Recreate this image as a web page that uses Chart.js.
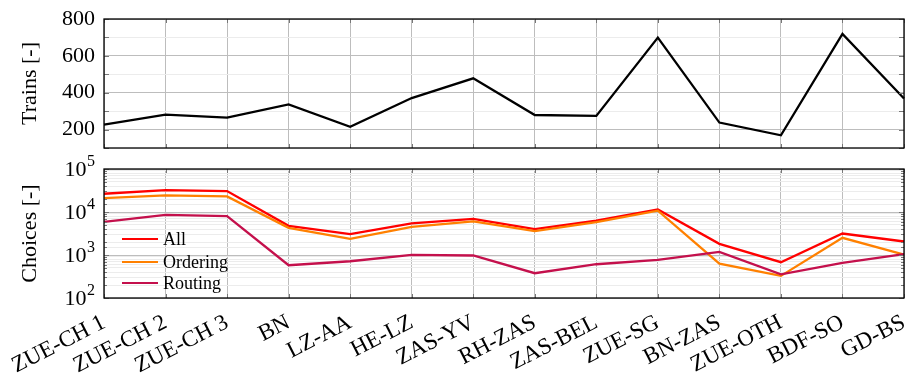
<!DOCTYPE html>
<html>
<head>
<meta charset="utf-8">
<script src="https://cdn.jsdelivr.net/npm/chart.js@4"></script>
<style>
  html, body { margin: 0; padding: 0; background: #ffffff; }
  #wrap { position: relative; width: 907px; height: 378px; overflow: hidden; }
  #topBox { position: absolute; left: 0; top: 0; width: 907px; height: 150px; }
  #botBox { position: absolute; left: 0; top: 150px; width: 907px; height: 228px; }
</style>
</head>
<body>
<div id="wrap">
  <div id="topBox"><canvas id="trainsChart" width="907" height="150"></canvas></div>
  <div id="botBox"><canvas id="choicesChart" width="907" height="228"></canvas></div>
</div>
<script>
// Line sections (shared category axis)
const sections = ['ZUE-CH 1', 'ZUE-CH 2', 'ZUE-CH 3', 'BN', 'LZ-AA', 'HE-LZ', 'ZAS-YV',
                  'RH-ZAS', 'ZAS-BEL', 'ZUE-SG', 'BN-ZAS', 'ZUE-OTH', 'BDF-SO', 'GD-BS'];

// Number of trains per section
const trains = [227, 281, 265, 337, 215, 371, 478, 279, 274, 699, 238, 169, 719, 369];

// Number of choices per section (log scale)
const choicesAll      = [26600, 32400, 30700, 4780, 3050, 5410, 6950, 3990, 6300, 11500, 1820, 680, 3160, 2060];
const choicesOrdering = [21100, 24300, 23100, 4290, 2380, 4520, 6030, 3590, 5820, 10700, 630, 327, 2510, 1020];
const choicesRouting  = [5910, 8610, 8020, 578, 716, 1010, 973, 377, 610, 770, 1180, 356, 656, 1045];

// Labelled ticks
const trainTicks  = [200, 400, 600, 800];
const choiceTicks = [100, 1000, 10000, 100000];

const FONT = "'Liberation Serif', 'DejaVu Serif', serif";
const MAJOR_GRID = '#bdbdbd';
const MINOR_GRID = '#ececec';
const PLOT_LEFT = 104;
const LABEL_RIGHT = 95;

function isChoiceTick(v) {
  return choiceTicks.some(t => Math.abs(v - t) / t < 1e-6);
}

// Frame around the plot area plus short inward tick marks on all sides
const framePlugin = {
  id: 'frame',
  afterDatasetsDraw(chart) {
    const { ctx, chartArea: a, scales } = chart;
    ctx.save();
    ctx.strokeStyle = '#777777';
    ctx.lineWidth = 1;
    const xs = scales.x;
    xs.ticks.forEach((t, i) => {
      const px = Math.round(xs.getPixelForTick(i)) + 0.5;
      ctx.beginPath();
      ctx.moveTo(px, a.top); ctx.lineTo(px, a.top + 4);
      ctx.moveTo(px, a.bottom); ctx.lineTo(px, a.bottom - 4);
      ctx.stroke();
    });
    const ys = scales.y;
    ys.ticks.forEach((t, i) => {
      const py = Math.round(ys.getPixelForTick(i)) + 0.5;
      const major = chart.options.scales.y.type === 'logarithmic' ? isChoiceTick(t.value) : true;
      const len = major ? 5 : 3;
      ctx.beginPath();
      ctx.moveTo(a.left, py); ctx.lineTo(a.left + len, py);
      ctx.moveTo(a.right, py); ctx.lineTo(a.right - len, py);
      ctx.stroke();
    });
    ctx.strokeStyle = '#000000';
    ctx.lineWidth = 1.3;
    ctx.strokeRect(a.left, a.top, a.right - a.left, a.bottom - a.top);
    ctx.restore();
  }
};

// Powers of ten on the log axis, written as base with a raised exponent
const powerLabels = {
  id: 'powerLabels',
  afterDraw(chart) {
    const { ctx } = chart;
    const ys = chart.scales.y;
    ctx.save();
    ctx.fillStyle = '#000000';
    ctx.textAlign = 'right';
    ctx.textBaseline = 'middle';
    choiceTicks.forEach(t => {
      const py = ys.getPixelForValue(t);
      const exp = String(Math.round(Math.log10(t)));
      ctx.font = "16px " + FONT;
      const ew = ctx.measureText(exp).width;
      ctx.fillText(exp, LABEL_RIGHT, py - 7);
      ctx.font = "22px " + FONT;
      ctx.fillText('10', LABEL_RIGHT - ew - 0.5, py + 1);
    });
    ctx.restore();
  }
};

// Legend drawn inside the lower left of the plot area
const innerLegend = {
  id: 'innerLegend',
  afterDraw(chart) {
    const { ctx } = chart;
    const x0 = 122, x1 = 158, tx = 163;
    const rows = [89, 112, 133];
    ctx.save();
    ctx.font = "18px " + FONT;
    ctx.textBaseline = 'middle';
    ctx.textAlign = 'left';
    chart.data.datasets.forEach((ds, i) => {
      const y = rows[i];
      ctx.strokeStyle = ds.borderColor;
      ctx.lineWidth = 2.2;
      ctx.beginPath(); ctx.moveTo(x0, y); ctx.lineTo(x1, y); ctx.stroke();
      ctx.fillStyle = '#000000';
      ctx.fillText(ds.label, tx, y + 1);
    });
    ctx.restore();
  }
};

// Fixed axis sizes so both plot areas line up exactly
function fixedWidth(w) {
  return scale => { scale.width = w; scale.paddingTop = 0; scale.paddingBottom = 0; };
}
function fixedHeight(h) {
  return scale => { scale.height = h; scale.paddingLeft = 0; scale.paddingRight = 0; };
}

// Trains per section
new Chart(document.getElementById('trainsChart'), {
  type: 'line',
  data: {
    labels: sections,
    datasets: [{
      label: 'Trains',
      data: trains,
      borderColor: '#000000',
      borderWidth: 2.3,
      pointRadius: 0,
      tension: 0,
      fill: false
    }]
  },
  options: {
    responsive: false,
    animation: false,
    devicePixelRatio: 1,
    layout: { padding: { top: 19, right: 3, left: 0, bottom: 0 } },
    plugins: { legend: { display: false }, tooltip: { enabled: false } },
    scales: {
      x: {
        type: 'category',
        offset: false,
        ticks: { display: false, autoSkip: false },
        grid: { color: MAJOR_GRID, drawTicks: false, lineWidth: 1 },
        border: { display: false },
        afterFit: fixedHeight(2)
      },
      y: {
        type: 'linear',
        min: 100,
        max: 800,
        ticks: {
          stepSize: 100,
          autoSkip: false,
          padding: 9,
          color: '#000000',
          font: { family: FONT, size: 22 },
          callback: v => trainTicks.includes(v) ? String(v) : ''
        },
        grid: {
          drawTicks: false,
          color: c => (c.tick && c.tick.value % 200 === 0) ? MAJOR_GRID : MINOR_GRID,
          lineWidth: 1
        },
        border: { display: false },
        title: {
          display: true,
          text: 'Trains [-]',
          color: '#000000',
          font: { family: FONT, size: 22 },
          padding: { top: 17, bottom: 0 }
        },
        afterFit: fixedWidth(PLOT_LEFT)
      }
    }
  },
  plugins: [framePlugin]
});

// Choices per section
new Chart(document.getElementById('choicesChart'), {
  type: 'line',
  data: {
    labels: sections,
    datasets: [
      { label: 'All', data: choicesAll, borderColor: '#ff0000', order: 3 },
      { label: 'Ordering', data: choicesOrdering, borderColor: '#ff8000', order: 2 },
      { label: 'Routing', data: choicesRouting, borderColor: '#c4104c', order: 1 }
    ].map(d => Object.assign(d, { borderWidth: 2.3, pointRadius: 0, tension: 0, fill: false }))
  },
  options: {
    responsive: false,
    animation: false,
    devicePixelRatio: 1,
    layout: { padding: { top: 19, right: 3, left: 0, bottom: 0 } },
    plugins: { legend: { display: false }, tooltip: { enabled: false } },
    scales: {
      x: {
        type: 'category',
        offset: false,
        ticks: {
          autoSkip: false,
          minRotation: 27,
          maxRotation: 27,
          padding: 11,
          color: '#000000',
          font: { family: FONT, size: 23 }
        },
        grid: { color: MAJOR_GRID, drawTicks: false, lineWidth: 1 },
        border: { display: false },
        afterFit: fixedHeight(80)
      },
      y: {
        type: 'logarithmic',
        min: 100,
        max: 100000,
        ticks: {
          autoSkip: false,
          padding: 9,
          font: { family: FONT, size: 22 },
          callback: () => ''
        },
        grid: {
          drawTicks: false,
          color: c => (c.tick && isChoiceTick(c.tick.value)) ? MAJOR_GRID : MINOR_GRID,
          lineWidth: 1
        },
        border: { display: false },
        title: {
          display: true,
          text: 'Choices [-]',
          color: '#000000',
          font: { family: FONT, size: 22 },
          padding: { top: 17, bottom: 0 }
        },
        afterFit: fixedWidth(PLOT_LEFT)
      }
    }
  },
  plugins: [framePlugin, powerLabels, innerLegend]
});
</script>
</body>
</html>
